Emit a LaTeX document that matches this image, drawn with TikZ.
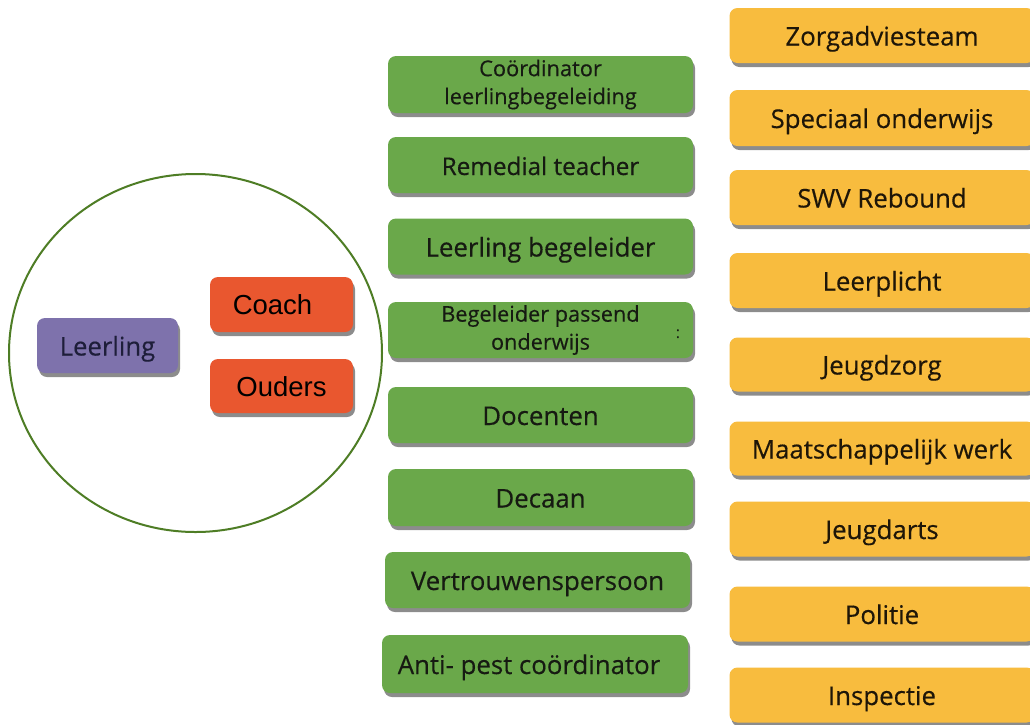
\documentclass[tikz,border=0pt]{standalone}
\usepackage{fontspec}
\setmainfont{Open Sans}
\newfontfamily\ofont[FakeBold=0.4]{Open Sans}
\newfontfamily\afont{Liberation Sans}
\usetikzlibrary{shadows}
\definecolor{gfill}{HTML}{6AA84A}
\definecolor{ofill}{HTML}{F8BC3E}
\definecolor{pfill}{HTML}{7E72AC}
\definecolor{rfill}{HTML}{E9572F}
\definecolor{ring}{HTML}{4E7D25}
\definecolor{txt}{HTML}{161A12}
\definecolor{otxt}{HTML}{1E1608}
\definecolor{ptxt}{HTML}{1E1E3A}
\tikzset{
  box/.style={rectangle, rounded corners=8pt, inner sep=0pt, align=center,
    text height=25pt, text depth=5pt,
    drop shadow={shadow xshift=2pt, shadow yshift=-4pt, fill=black, opacity=0.45}},
  twoline/.style={text height=, text depth=},
  gbox/.style={box, fill=gfill, text=txt, minimum width=305pt, minimum height=56pt,
    font=\ofont\fontsize{25.8}{28}\selectfont},
  obox/.style={box, fill=ofill, text=otxt, minimum width=305pt, minimum height=55pt,
    font=\ofont\fontsize{25.8}{28}\selectfont},
  rbox/.style={box, fill=rfill, text=black, minimum width=143pt, minimum height=55pt,
    font=\afont\fontsize{27.5}{30}\selectfont},
  pbox/.style={box, fill=pfill, text=ptxt, minimum width=141pt, minimum height=55pt,
    font=\ofont\fontsize{25.7}{28}\selectfont},
  ringstyle/.style={draw=ring, line width=2pt}
}
\begin{document}
\begin{tikzpicture}[x=1pt,y=-1pt]
\fill[white] (0,0) rectangle (1030,724);
\useasboundingbox (0,0) rectangle (1030,724);
% circle
\draw[ringstyle] (195.5,353) ellipse [x radius=186.5, y radius=179];
\node[pbox] (leerling) at (107.5,345.5) {Leerling};
\node[rbox] (coach) at (281.5,304.5) {\hspace*{-18pt}Coach};
\node[rbox, minimum height=54pt] (ouders) at (281.5,386) {Ouders};
% green column
\node[gbox, twoline, minimum height=57pt, font=\ofont\fontsize{21.8}{28}\selectfont] (coord) at (540.5,84.5) {Coördinator\\leerlingbegeleiding};
\node[gbox, font=\ofont\fontsize{24.3}{28}\selectfont] (remedial) at (540.5,165) {Remedial teacher};
\node[gbox] (lb) at (540.5,246.5) {Leerling begeleider};
\node[gbox, twoline, font=\ofont\fontsize{21.7}{28}\selectfont] (bpo) at (540.5,330) {Begeleider passend\\onderwijs};
\node[text=txt, font=\fontsize{16}{18}\selectfont, inner sep=0pt] (colon) at (678,334) {:};
\node[gbox] (docenten) at (540.5,415) {Docenten};
\node[gbox, minimum height=57pt] (decaan) at (540.5,497.5) {Decaan};
\node[gbox] (vertrouwen) at (537.5,580) {Vertrouwenspersoon};
\node[gbox, minimum width=306pt, minimum height=58pt] (antipest) at (535,664) {\hspace*{-12pt}Anti- pest coördinator};
% orange column
\node[obox] (zorg) at (882,35.5) {Zorgadviesteam};
\node[obox, minimum height=56pt] (speciaal) at (882,118) {Speciaal onderwijs};
\node[obox] (swv) at (882,197.5) {SWV Rebound};
\node[obox] (leerplicht) at (882,280.5) {Leerplicht};
\node[obox, minimum height=54pt] (jeugdzorg) at (882,364.5) {Jeugdzorg};
\node[obox, minimum height=54pt] (maatsch) at (882,448.5) {Maatschappelijk werk};
\node[obox] (jeugdarts) at (882,529) {Jeugdarts};
\node[obox] (politie) at (882,614) {Politie};
\node[obox] (inspectie) at (882,695) {Inspectie};
\end{tikzpicture}
\end{document}
